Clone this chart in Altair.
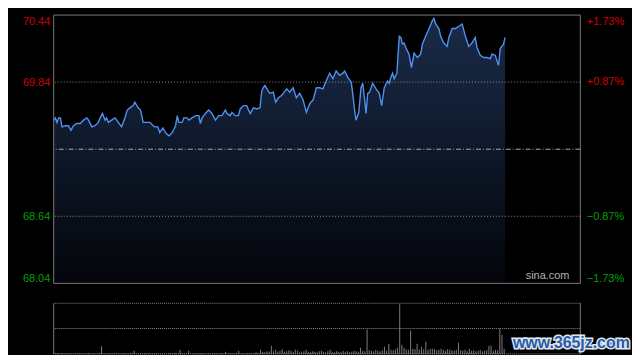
import altair as alt
import pandas as pd

# ---------------- data ----------------
PRE_CLOSE = 69.24
PRICE_TOP = 70.44
PRICE_BOT = 68.04
left_ticks = [70.44, 69.84, 68.64, 68.04]
right_ticks = [1.73, 0.87, -0.87, -1.73]

minutes = [0.0, 0.8, 1.5, 2.3, 3.1, 3.8, 5.3, 6.8, 7.9, 9.1,
           10.6, 12.2, 13.7, 15.2, 16.0, 17.5, 19.0, 20.5, 21.3, 22.4,
           23.6, 24.3, 25.1, 26.6, 28.2, 29.7, 31.2, 32.7, 33.8, 35.0,
           36.5, 37.3, 38.8, 39.9, 41.1, 42.6, 44.2, 45.7, 46.4, 47.9,
           48.7, 50.2, 51.7, 53.0, 54.5, 56.0, 56.8, 57.5, 59.0, 59.8,
           61.3, 62.1, 63.6, 65.2, 66.7, 67.4, 68.2, 69.7, 71.2, 72.7,
           74.3, 75.8, 77.3, 78.9, 79.6, 81.1, 81.9, 83.4, 84.9, 85.7,
           87.2, 88.7, 89.5, 90.3, 91.8, 93.3, 94.8, 95.6, 96.3, 97.1,
           98.6, 99.4, 100.9, 102.0, 103.2, 104.7, 106.3, 107.0, 108.5, 110.0,
           111.5, 113.1, 114.6, 116.1, 117.7, 119.2, 120.7, 122.2, 123.7, 125.2,
           126.8, 128.3, 129.8, 131.4, 132.9, 133.7, 135.2, 136.7, 137.4, 138.2,
           138.9, 140.2, 141.2, 142.0, 142.8, 143.5, 144.3, 145.1, 146.6, 148.1,
           149.6, 150.7, 151.9, 153.4, 154.2, 154.9, 155.7, 156.5, 157.7, 158.8,
           159.5, 160.3, 161.0, 161.8, 162.5, 163.3, 164.4, 165.6, 167.1, 168.6,
           169.4, 170.9, 172.5, 174.0, 174.7, 175.5, 177.0, 177.8, 179.3, 180.8,
           181.6, 183.1, 184.6, 186.2, 187.7, 189.2, 190.7, 192.2, 193.7, 194.5,
           196.0, 197.6, 199.1, 200.6, 201.4, 202.9, 204.4, 205.2, 206.7, 207.4]

prices = [69.50, 69.52, 69.48, 69.52, 69.52, 69.44, 69.45, 69.45, 69.41, 69.45,
          69.47, 69.47, 69.50, 69.52, 69.50, 69.44, 69.45, 69.48, 69.52, 69.56,
          69.50, 69.52, 69.48, 69.50, 69.52, 69.48, 69.44, 69.52, 69.59, 69.61,
          69.63, 69.66, 69.61, 69.59, 69.48, 69.48, 69.48, 69.45, 69.44, 69.44,
          69.39, 69.43, 69.38, 69.36, 69.39, 69.45, 69.54, 69.48, 69.48, 69.52,
          69.52, 69.50, 69.52, 69.54, 69.54, 69.47, 69.52, 69.56, 69.59, 69.56,
          69.50, 69.54, 69.54, 69.59, 69.56, 69.54, 69.57, 69.54, 69.54, 69.60,
          69.63, 69.63, 69.59, 69.56, 69.61, 69.60, 69.61, 69.76, 69.79, 69.81,
          69.76, 69.74, 69.75, 69.66, 69.70, 69.72, 69.76, 69.78, 69.75, 69.79,
          69.70, 69.74, 69.68, 69.57, 69.65, 69.68, 69.79, 69.79, 69.78, 69.85,
          69.92, 69.87, 69.94, 69.90, 69.92, 69.94, 69.88, 69.84, 69.74, 69.60,
          69.50, 69.57, 69.79, 69.83, 69.70, 69.56, 69.74, 69.75, 69.83, 69.78,
          69.74, 69.63, 69.79, 69.85, 69.83, 69.88, 69.92, 69.87, 69.92, 70.25,
          70.24, 70.18, 70.19, 70.15, 70.12, 70.09, 69.97, 70.10, 70.06, 70.09,
          70.18, 70.25, 70.32, 70.39, 70.41, 70.36, 70.32, 70.25, 70.19, 70.16,
          70.24, 70.32, 70.32, 70.34, 70.36, 70.25, 70.16, 70.19, 70.24, 70.15,
          70.08, 70.06, 70.06, 70.05, 70.09, 70.08, 69.99, 70.14, 70.18, 70.24]

# volume per minute, as % of the volume panel height
volume = [3, 2, 2, 1, 2, 1, 1, 2, 1, 1,
          1, 1, 2, 1, 1, 1, 2, 1, 1, 1,
          1, 2, 15, 1, 1, 1, 2, 1, 1, 1,
          1, 1, 2, 1, 1, 1, 2, 6, 1, 1,
          1, 1, 2, 1, 1, 1, 1, 2, 1, 1,
          1, 1, 1, 2, 1, 1, 2, 1, 8, 2,
          1, 2, 6, 1, 1, 2, 1, 1, 2, 1,
          1, 2, 1, 1, 2, 1, 1, 2, 1, 4,
          1, 2, 1, 1, 2, 6, 1, 2, 1, 2,
          2, 1, 2, 3, 2, 8, 4, 3, 5, 4,
          16, 5, 8, 4, 6, 9, 4, 5, 7, 6,
          4, 8, 6, 3, 4, 5, 8, 4, 3, 5,
          4, 3, 5, 6, 4, 3, 5, 8, 4, 3,
          5, 4, 3, 6, 4, 5, 3, 4, 6, 5,
          4, 12, 6, 5, 48, 7, 6, 5, 8, 6,
          5, 7, 14, 6, 20, 8, 7, 9, 12, 98,
          18, 12, 9, 8, 46, 10, 9, 20, 8, 14,
          9, 24, 8, 10, 10, 9, 7, 8, 10, 8,
          6, 9, 8, 7, 6, 8, 22, 7, 6, 8,
          5, 10, 6, 7, 5, 6, 8, 5, 6, 7,
          16, 16, 6, 8, 7, 50, 38, 10]

SESSION_MINUTES = 242

# ---------------- geometry ----------------
W = 530
MAIN_H, GAP_H, VOL_H = 270, 20, 51
H = MAIN_H + GAP_H + VOL_H
per_px = (PRICE_TOP - PRICE_BOT) / MAIN_H
price_lo = PRICE_BOT - (GAP_H + VOL_H) * per_px
vol_hi = 100 * H / VOL_H

FONT = "Liberation Sans"
RED, GREEN = "#d40000", "#00a000"

x_scale = alt.Scale(domain=[0, SESSION_MINUTES], nice=False, zero=False, padding=0)
price_scale = alt.Scale(domain=[price_lo, PRICE_TOP], nice=False, zero=False)
pct_scale = alt.Scale(domain=[(price_lo - PRE_CLOSE) / PRE_CLOSE * 100,
                              (PRICE_TOP - PRE_CLOSE) / PRE_CLOSE * 100],
                      nice=False, zero=False)
vol_scale = alt.Scale(domain=[0, vol_hi], nice=False, zero=False)

baseline_cond = {"condition": [{"test": "datum.value > 70.4", "value": "top"},
                               {"test": "datum.value < 68.1", "value": "bottom"}],
                 "value": "middle"}
left_axis = alt.Axis(values=left_ticks, orient="left", title=None, domain=False,
                     ticks=False, grid=False, labelPadding=4, labelFont=FONT,
                     labelFontSize=11, format=".2f", labelOverlap=False,
                     labelColor={"condition": {"test": "datum.value > 69.24", "value": RED},
                                 "value": GREEN},
                     labelBaseline=baseline_cond)
pct_baseline = {"condition": [{"test": "datum.value > 1.7", "value": "top"},
                              {"test": "datum.value < -1.7", "value": "bottom"}],
                "value": "middle"}
right_axis = alt.Axis(values=right_ticks, orient="right", title=None, domain=False,
                      ticks=False, grid=False, labelPadding=6, labelFont=FONT,
                      labelFontSize=11, labelOverlap=False,
                      labelExpr="(datum.value > 0 ? '+' : '') + format(datum.value, '.2f') + '%'",
                      labelColor={"condition": {"test": "datum.value > 0", "value": RED},
                                  "value": GREEN},
                      labelBaseline=pct_baseline)


def X(field):
    return alt.X(field, type="quantitative", scale=x_scale, axis=None)


def YP(field):
    return alt.Y(field, type="quantitative", scale=price_scale, axis=left_axis)


def YV(field):
    return alt.Y(field, type="quantitative", scale=vol_scale, axis=None)


# ---------------- frames ----------------
df = pd.DataFrame({"t": minutes, "price": prices})
df["base"] = PRICE_BOT
grid_df = pd.DataFrame({"level": [69.84, 68.64]})
pre_df = pd.DataFrame({"level": [PRE_CLOSE]})
hbox_df = pd.DataFrame({"level": [PRICE_TOP, PRICE_BOT]})
vbox_df = pd.DataFrame({"t": [0, SESSION_MINUTES], "lo": [PRICE_BOT] * 2, "hi": [PRICE_TOP] * 2})
sina_df = pd.DataFrame({"t": [SESSION_MINUTES], "p": [PRICE_BOT], "s": ["sina.com"]})
pct_df = pd.DataFrame({"pct": right_ticks})
vol_df = pd.DataFrame({"t": list(range(len(volume))), "v": volume})
vgrid_df = pd.DataFrame({"v": [0, 50, 100]})
vside_df = pd.DataFrame({"t": [0, SESSION_MINUTES], "lo": [0, 0], "hi": [100, 100]})
wm_df = pd.DataFrame({"s": ["www.365jz.com"]})

grad = alt.Gradient(gradient="linear",
                    stops=[alt.GradientStop(color="#1a2b49", offset=0),
                           alt.GradientStop(color="#03050a", offset=1)],
                    x1=1, x2=1, y1=0, y2=1)

area = alt.Chart(df).mark_area(color=grad, line=False).encode(
    x=X("t"), y=YP("price"), y2="base")
line = alt.Chart(df).mark_line(color="#4d92ee", strokeWidth=1.4).encode(
    x=X("t"), y=YP("price"))
grid = alt.Chart(grid_df).mark_rule(color="#8c8c8c", strokeDash=[1, 2], strokeWidth=1).encode(
    y=YP("level"))
pre = alt.Chart(pre_df).mark_rule(color="#a4acb8", strokeDash=[5, 2, 1, 2], strokeWidth=1).encode(
    y=YP("level"))
hbox = alt.Chart(hbox_df).mark_rule(color="#7a7a7a", strokeWidth=1).encode(y=YP("level"))
vbox = alt.Chart(vbox_df).mark_rule(color="#7a7a7a", strokeWidth=1).encode(
    x=X("t"), y=YP("lo"), y2="hi")
sina = alt.Chart(sina_df).mark_text(align="right", baseline="bottom", dx=-11, dy=-2,
                                    font=FONT, fontSize=11, color="#b4b4b4").encode(
    x=X("t"), y=YP("p"), text="s:N")

price_layer = alt.layer(area, grid, pre, line, hbox, vbox, sina)

pct_layer = alt.Chart(pct_df).mark_rule(strokeOpacity=0).encode(
    y=alt.Y("pct:Q", scale=pct_scale, axis=right_axis))

bars = alt.Chart(vol_df).mark_bar(size=1, color="#7c7c7c").encode(x=X("t"), y=YV("v"))
vgrid = alt.Chart(vgrid_df).mark_rule(color="#8c8c8c", strokeDash=[1, 1], strokeWidth=1).encode(
    y=YV("v"))
vside = alt.Chart(vside_df).mark_rule(color="#7a7a7a", strokeWidth=1).encode(
    x=X("t"), y=YV("lo"), y2="hi")
vol_layer = alt.layer(bars, vgrid, vside)

wm_back = alt.Chart(wm_df).mark_text(font=FONT, fontSize=16, fontWeight="bold",
                                     fill="#dfe6ef", stroke="#dfe6ef", strokeWidth=3,
                                     align="center", baseline="middle").encode(
    x=alt.value(521), y=alt.value(330), text="s:N")
wm_front = alt.Chart(wm_df).mark_text(font=FONT, fontSize=16, fontWeight="bold",
                                      fill="#2a5aa6", align="center", baseline="middle").encode(
    x=alt.value(521), y=alt.value(330), text="s:N")

chart = alt.layer(price_layer, pct_layer, vol_layer, wm_back, wm_front).resolve_scale(
    y="independent"
).properties(
    width=W, height=H,
    autosize=alt.AutoSizeParams(type="none"),
    padding={"left": 46, "top": 6, "right": 52, "bottom": 0},
).configure(background="#000000").configure_view(stroke=None)

chart.save("out.html", embed_options={"renderer": "svg", "actions": False})
